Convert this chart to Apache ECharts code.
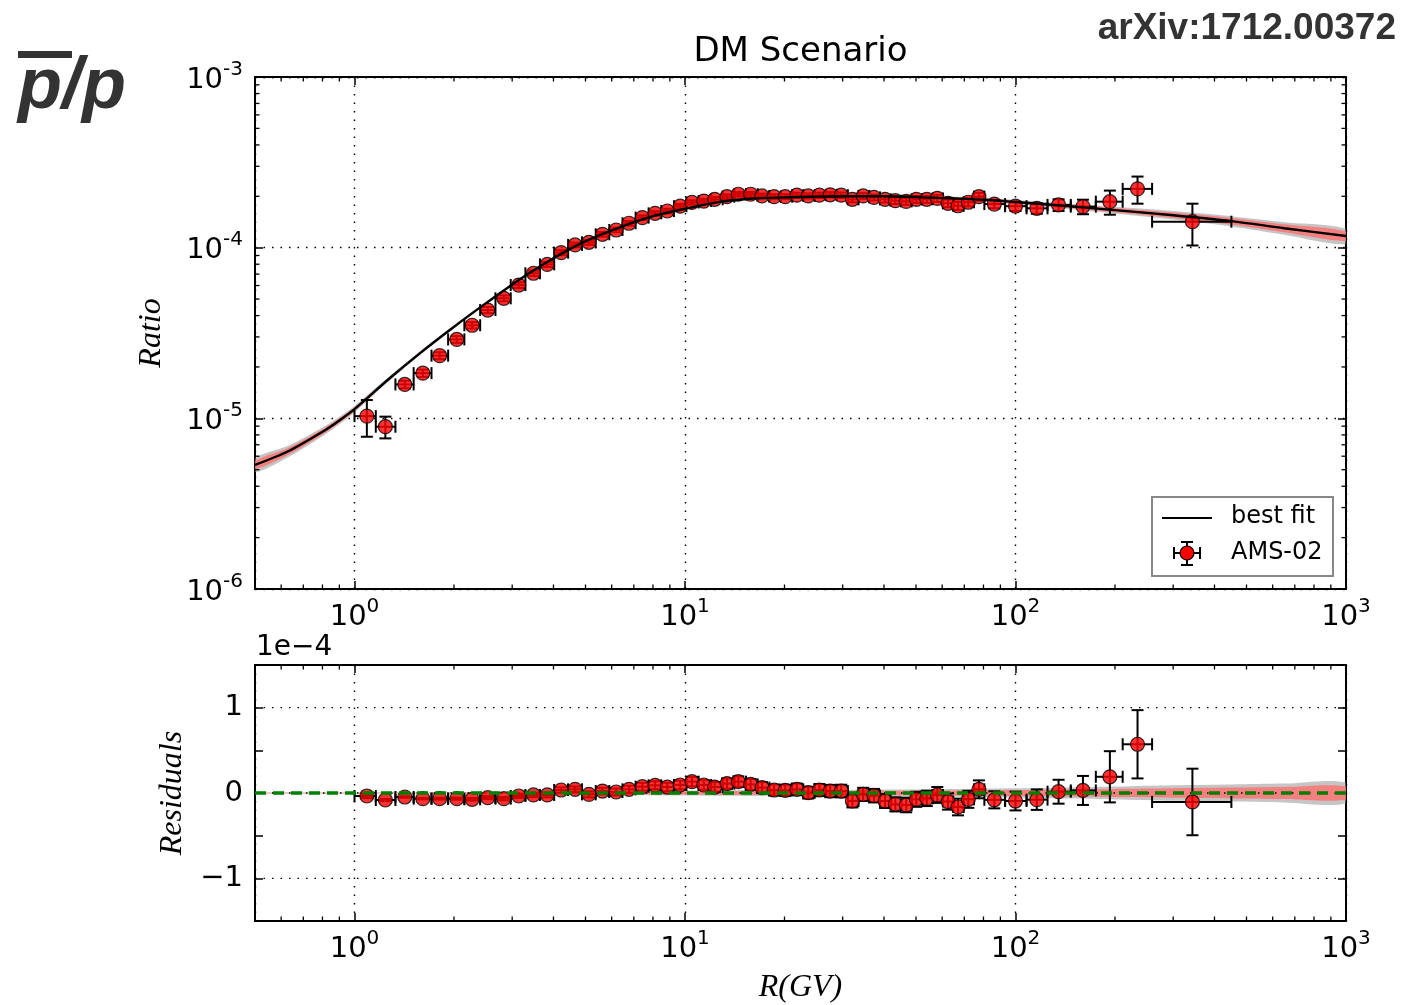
<!DOCTYPE html>
<html>
<head>
<meta charset="utf-8">
<title>DM Scenario - pbar/p</title>
<script src="https://cdn.jsdelivr.net/npm/echarts@6/dist/echarts.min.js"></script>
<style>
  html, body { margin: 0; padding: 0; background: #ffffff; }
  #chart { width: 1403px; height: 1005px; }
</style>
</head>
<body>
<div id="chart"></div>
<script>
// AMS-02 rigidity bins (GV)
const binEdges = [1.00, 1.16, 1.33, 1.51, 1.71, 1.92, 2.15, 2.40, 2.67, 2.97, 3.29, 3.64, 4.02, 4.43, 4.88,
  5.37, 5.90, 6.47, 7.09, 7.76, 8.48, 9.26, 10.1, 11.0, 12.0, 13.0, 14.1, 15.3, 16.6, 18.0, 19.5, 21.1,
  22.8, 24.7, 26.7, 28.8, 31.1, 33.5, 36.1, 38.9, 41.9, 45.1, 48.5, 52.2, 56.1, 60.3, 64.8, 69.7, 74.9,
  80.5, 93.0, 108, 125, 147, 175, 211, 259, 450];
const rigidity = [1.09, 1.24, 1.42, 1.61, 1.81, 2.04, 2.27, 2.53, 2.83, 3.14, 3.48, 3.83, 4.22, 4.65, 5.12,
  5.63, 6.19, 6.77, 7.43, 8.12, 8.84, 9.67, 10.5, 11.4, 12.3, 13.4, 14.5, 15.8, 17.1, 18.6, 20.1, 21.8,
  23.6, 25.5, 27.5, 29.7, 32.1, 34.6, 37.3, 40.3, 43.3, 46.7, 50.1, 53.9, 58.0, 62.5, 67.0, 72.0, 77.5,
  86.3, 100, 116, 135, 160, 193, 234, 343];
// antiproton / proton ratio
const ratio = [1.03e-5, 8.93e-6, 1.58e-5, 1.84e-5, 2.33e-5, 2.90e-5, 3.51e-5, 4.31e-5, 5.05e-5, 6.04e-5,
  7.08e-5, 7.98e-5, 9.35e-5, 1.038e-4, 1.075e-4, 1.198e-4, 1.269e-4, 1.39e-4, 1.50e-4, 1.589e-4,
  1.64e-4, 1.75e-4, 1.84e-4, 1.876e-4, 1.92e-4, 1.99e-4, 2.056e-4, 2.056e-4, 2.01e-4, 1.99e-4,
  1.99e-4, 2.03e-4, 2.01e-4, 2.03e-4, 2.04e-4, 2.03e-4, 1.92e-4, 2.01e-4, 1.97e-4, 1.92e-4,
  1.885e-4, 1.868e-4, 1.92e-4, 1.92e-4, 1.945e-4, 1.82e-4, 1.76e-4, 1.845e-4, 1.99e-4, 1.80e-4,
  1.75e-4, 1.70e-4, 1.78e-4, 1.74e-4, 1.86e-4, 2.21e-4, 1.42e-4];
// errors and residuals in units of 1e-4
const ratioErr = [0.025, 0.013, 0.008, 0.009, 0.011, 0.013, 0.015, 0.018, 0.02, 0.023,
  0.026, 0.028, 0.031, 0.033, 0.035, 0.038, 0.04, 0.042, 0.045, 0.047,
  0.05, 0.052, 0.055, 0.056, 0.058, 0.06, 0.062, 0.063, 0.064, 0.065,
  0.066, 0.068, 0.069, 0.07, 0.072, 0.074, 0.075, 0.077, 0.079, 0.081,
  0.083, 0.085, 0.088, 0.09, 0.093, 0.095, 0.098, 0.1, 0.105, 0.1,
  0.11, 0.12, 0.14, 0.17, 0.30, 0.40, 0.39];
const residual = [-0.035, -0.082, -0.047, -0.066, -0.066, -0.066, -0.074, -0.055, -0.066, -0.035,
  -0.023, -0.023, 0.035, 0.043, -0.016, 0.023, 0.012, 0.043, 0.074, 0.09,
  0.07, 0.094, 0.133, 0.094, 0.07, 0.11, 0.133, 0.10, 0.063, 0.035,
  0.031, 0.043, 0.004, 0.035, 0.023, 0.023, -0.094, -0.016, -0.031, -0.094,
  -0.133, -0.141, -0.074, -0.063, -0.023, -0.10, -0.164, -0.074, 0.043, -0.08,
  -0.094, -0.078, 0.015, 0.03, 0.19, 0.571, -0.105];

// best fit curve
const fitR = [0.5, 0.63, 0.8, 0.9, 1.0, 1.27, 1.6, 2.02, 2.55, 3.21, 4.05, 5.1, 6.44, 8.11, 10, 12.9,
  16, 20, 25, 31.5, 40, 57, 80, 100, 150, 200, 300, 450, 650, 1000];
const fitRatio = [5.33e-6, 6.41e-6, 8.34e-6, 9.72e-6, 1.132e-5, 1.70e-5, 2.46e-5, 3.49e-5, 4.86e-5, 6.64e-5,
  8.78e-5, 1.11e-4, 1.33e-4, 1.54e-4, 1.69e-4, 1.86e-4, 1.94e-4, 1.97e-4, 1.99e-4, 2.00e-4,
  2.00e-4, 1.96e-4, 1.91e-4, 1.85e-4, 1.74e-4, 1.66e-4, 1.55e-4, 1.43e-4, 1.30e-4, 1.17e-4];
// uncertainty bands around the fit, half widths in units of 1e-4
const grayHalf = [0.005, 0.005, 0.005, 0.005, 0.005, 0.005, 0.006, 0.007, 0.009, 0.012, 0.016, 0.02,
  0.024, 0.028, 0.03, 0.033, 0.035, 0.036, 0.037, 0.038, 0.04, 0.045, 0.05, 0.055, 0.065, 0.075,
  0.09, 0.10, 0.11, 0.12];
const redHalf = [0.003, 0.003, 0.003, 0.003, 0.003, 0.003, 0.004, 0.004, 0.005, 0.007, 0.009, 0.012,
  0.014, 0.016, 0.018, 0.02, 0.021, 0.022, 0.023, 0.024, 0.025, 0.028, 0.031, 0.035, 0.042, 0.048,
  0.056, 0.064, 0.07, 0.075];

// tick positions
const xMinor = [0.6, 0.7, 0.8, 0.9, 2, 3, 4, 5, 6, 7, 8, 9, 20, 30, 40, 50, 60, 70, 80, 90,
  200, 300, 400, 500, 600, 700, 800, 900];
const yMinor = [2e-6, 3e-6, 4e-6, 5e-6, 6e-6, 7e-6, 8e-6, 9e-6, 2e-5, 3e-5, 4e-5, 5e-5, 6e-5, 7e-5,
  8e-5, 9e-5, 2e-4, 3e-4, 4e-4, 5e-4, 6e-4, 7e-4, 8e-4, 9e-4];
const resGrid = [-1, 0, 1];

const E4 = 1e-4;
const FONT = '"DejaVu Sans", sans-serif';
const SERIF = '"Liberation Serif", "DejaVu Serif", serif';

function powLabel(v) {
  const e = Math.log10(v);
  const r = Math.round(e);
  if (Math.abs(e - r) > 1e-6) return '';
  return '{b|10}{s|' + r + '}';
}
const powRich = {
  b: { fontSize: 29, fontFamily: FONT, color: '#000', verticalAlign: 'bottom', lineHeight: 35 },
  s: { fontSize: 20, fontFamily: FONT, color: '#000', verticalAlign: 'top' }
};

function logX(gridIndex, position, main) {
  return {
    type: 'log', logBase: 10, gridIndex: gridIndex, position: position, min: 0.5, max: 1000,
    axisLine: { show: true, onZero: false, lineStyle: { color: '#000', width: 2 } },
    axisTick: { show: true, inside: true, length: 8, lineStyle: { color: '#000', width: 1.5 } },
    axisLabel: { show: main, formatter: powLabel, rich: powRich, margin: 8 },
    splitLine: { show: main, lineStyle: { color: '#000', width: 1.4, type: [1.5, 7] } }
  };
}
function logY(position, main) {
  return {
    type: 'log', logBase: 10, gridIndex: 0, position: position, min: 1e-6, max: 1e-3,
    axisLine: { show: true, onZero: false, lineStyle: { color: '#000', width: 2 } },
    axisTick: { show: true, inside: true, length: 8, lineStyle: { color: '#000', width: 1.5 } },
    axisLabel: { show: main, formatter: powLabel, rich: powRich, margin: 12 },
    splitLine: { show: main, lineStyle: { color: '#000', width: 1.4, type: [1.5, 7] } }
  };
}
function resY(position, main) {
  return {
    type: 'value', gridIndex: 1, position: position, min: -1.5, max: 1.5, interval: 0.5,
    axisLine: { show: true, onZero: false, lineStyle: { color: '#000', width: 2 } },
    axisTick: { show: true, inside: true, length: 8, lineStyle: { color: '#000', width: 1.5 } },
    axisLabel: {
      show: main, margin: 12, fontSize: 29, fontFamily: FONT, color: '#000',
      formatter: function (v) {
        if (Math.abs(v - Math.round(v)) > 1e-9) return '';
        return v < 0 ? '\u2212' + Math.abs(v) : String(v);
      }
    },
    splitLine: { show: false }
  };
}

// filled band between lo and hi curves
function bandSeries(xi, yi, lo, hi, color, z) {
  return {
    type: 'custom', xAxisIndex: xi, yAxisIndex: yi, z: z, silent: true, clip: true,
    data: [[fitR[0], hi[0]]],
    renderItem: function (params, api) {
      const pts = [];
      for (let i = 0; i < fitR.length; i++) pts.push(api.coord([fitR[i], hi[i]]));
      for (let i = fitR.length - 1; i >= 0; i--) pts.push(api.coord([fitR[i], lo[i]]));
      return { type: 'polygon', shape: { points: pts, smooth: 0.3 }, style: { fill: color } };
    }
  };
}

// x and y error bars with caps
function errorSeries(xi, yi, items, z) {
  return {
    type: 'custom', xAxisIndex: xi, yAxisIndex: yi, z: z, silent: true, clip: true,
    data: items,
    renderItem: function (params, api) {
      const yl = api.coord([api.value(0), api.value(2)]);
      const yh = api.coord([api.value(0), api.value(3)]);
      const xl = api.coord([api.value(4), api.value(1)]);
      const xh = api.coord([api.value(5), api.value(1)]);
      const cap = 6;
      const segs = [
        [yl[0], yl[1], yh[0], yh[1]],
        [yl[0] - cap, yl[1], yl[0] + cap, yl[1]],
        [yh[0] - cap, yh[1], yh[0] + cap, yh[1]],
        [xl[0], xl[1], xh[0], xh[1]],
        [xl[0], xl[1] - cap, xl[0], xl[1] + cap],
        [xh[0], xh[1] - cap, xh[0], xh[1] + cap]
      ];
      return {
        type: 'group',
        children: segs.map(function (s) {
          return { type: 'line', shape: { x1: s[0], y1: s[1], x2: s[2], y2: s[3] },
            style: { stroke: '#000', lineWidth: 2 } };
        })
      };
    }
  };
}

// minor ticks on both horizontal edges (axis 'x') or both vertical edges (axis 'y')
function minorTicks(xi, yi, items, axis, z) {
  return {
    type: 'custom', xAxisIndex: xi, yAxisIndex: yi, z: z, silent: true, clip: false,
    data: items,
    renderItem: function (params, api) {
      const p = api.coord([api.value(0), api.value(1)]);
      const cs = params.coordSys;
      const L = 4.5;
      let segs;
      if (axis === 'x') {
        segs = [[p[0], cs.y + cs.height, p[0], cs.y + cs.height - L], [p[0], cs.y, p[0], cs.y + L]];
      } else {
        segs = [[cs.x, p[1], cs.x + L, p[1]], [cs.x + cs.width, p[1], cs.x + cs.width - L, p[1]]];
      }
      return {
        type: 'group',
        children: segs.map(function (s) {
          return { type: 'line', shape: { x1: s[0], y1: s[1], x2: s[2], y2: s[3] },
            style: { stroke: '#000', lineWidth: 1.3 } };
        })
      };
    }
  };
}

// horizontal dotted grid lines of the residual panel
function resGridSeries(z) {
  return {
    type: 'custom', xAxisIndex: 2, yAxisIndex: 2, z: z, silent: true,
    data: resGrid.map(function (v) { return [1, v]; }),
    renderItem: function (params, api) {
      const p = api.coord([api.value(0), api.value(1)]);
      const cs = params.coordSys;
      return { type: 'line', shape: { x1: cs.x, y1: p[1], x2: cs.x + cs.width, y2: p[1] },
        style: { stroke: '#000', lineWidth: 1.4, lineDash: [1.5, 7] } };
    }
  };
}

const topErr = rigidity.map(function (r, i) {
  return [r, ratio[i], ratio[i] - ratioErr[i] * E4, ratio[i] + ratioErr[i] * E4, binEdges[i], binEdges[i + 1]];
});
const resErr = rigidity.map(function (r, i) {
  return [r, residual[i], residual[i] - ratioErr[i], residual[i] + ratioErr[i], binEdges[i], binEdges[i + 1]];
});
const topGrayLo = fitRatio.map(function (v, i) { return v - grayHalf[i] * E4; });
const topGrayHi = fitRatio.map(function (v, i) { return v + grayHalf[i] * E4; });
const topRedLo = fitRatio.map(function (v, i) { return v - redHalf[i] * E4; });
const topRedHi = fitRatio.map(function (v, i) { return v + redHalf[i] * E4; });
const resGrayLo = grayHalf.map(function (v) { return -v; });
const resRedLo = redHalf.map(function (v) { return -v; });

const marker = {
  symbol: 'circle', symbolSize: 14,
  itemStyle: { color: '#ff0000', borderColor: '#000', borderWidth: 1.2 }
};

const option = {
  animation: false,
  backgroundColor: '#ffffff',
  grid: [
    { left: 255, top: 77, width: 1091, height: 512 },
    { left: 255, top: 665, width: 1091, height: 256 }
  ],
  xAxis: [logX(0, 'bottom', true), logX(0, 'top', false), logX(1, 'bottom', true), logX(1, 'top', false)],
  yAxis: [logY('left', true), logY('right', false), resY('left', true), resY('right', false)],
  series: [
    bandSeries(0, 0, topGrayLo, topGrayHi, 'rgba(150,150,150,0.55)', 1),
    bandSeries(0, 0, topRedLo, topRedHi, 'rgba(255,110,110,0.8)', 2),
    minorTicks(0, 0, xMinor.map(function (v) { return [v, 1e-4]; }), 'x', 3),
    minorTicks(0, 0, yMinor.map(function (v) { return [1, v]; }), 'y', 3),
    errorSeries(0, 0, topErr, 4),
    Object.assign({
      type: 'scatter', name: 'AMS-02', xAxisIndex: 0, yAxisIndex: 0, z: 5,
      data: rigidity.map(function (r, i) { return [r, ratio[i]]; })
    }, marker),
    {
      type: 'line', name: 'best fit', xAxisIndex: 0, yAxisIndex: 0, z: 6,
      smooth: 0.3, showSymbol: false, symbol: 'none',
      lineStyle: { color: '#000', width: 2.4 },
      data: fitR.map(function (r, i) { return [r, fitRatio[i]]; })
    },

    bandSeries(2, 2, resGrayLo, grayHalf, 'rgba(150,150,150,0.55)', 1),
    bandSeries(2, 2, resRedLo, redHalf, 'rgba(255,110,110,0.8)', 2),
    minorTicks(2, 2, xMinor.map(function (v) { return [v, 0]; }), 'x', 3),
    resGridSeries(3),
    errorSeries(2, 2, resErr, 4),
    Object.assign({
      type: 'scatter', name: 'residuals', xAxisIndex: 2, yAxisIndex: 2, z: 5,
      data: rigidity.map(function (r, i) { return [r, residual[i]]; })
    }, marker),
    {
      type: 'line', name: 'zero', xAxisIndex: 2, yAxisIndex: 2, z: 6,
      showSymbol: false, symbol: 'none',
      lineStyle: { color: '#007f00', width: 3.4, type: [11, 7] },
      data: [[0.5, 0], [1000, 0]]
    }
  ],
  graphic: [
    { type: 'rect', left: 18, top: 51, shape: { width: 54, height: 7 }, style: { fill: '#333333' } },
    { type: 'text', x: 18, y: 88,
      style: { text: 'p/p', font: 'italic bold 72px "Liberation Sans", sans-serif', fill: '#333333',
        align: 'left', verticalAlign: 'middle' } },
    { type: 'text', x: 1396, y: 29,
      style: { text: 'arXiv:1712.00372', font: 'bold 37px "Liberation Sans", sans-serif', fill: '#333333',
        align: 'right', verticalAlign: 'middle' } },
    { type: 'text', x: 800.5, y: 52,
      style: { text: 'DM Scenario', font: '34px ' + FONT, fill: '#000', align: 'center', verticalAlign: 'middle' } },
    { type: 'text', x: 152, y: 333, rotation: Math.PI / 2,
      style: { text: 'Ratio', font: 'italic 32px ' + SERIF, fill: '#000', align: 'center', verticalAlign: 'middle' } },
    { type: 'text', x: 173, y: 793, rotation: Math.PI / 2,
      style: { text: 'Residuals', font: 'italic 32px ' + SERIF, fill: '#000', align: 'center', verticalAlign: 'middle' } },
    { type: 'text', x: 800.5, y: 988,
      style: { text: 'R(GV)', font: 'italic 32px ' + SERIF, fill: '#000', align: 'center', verticalAlign: 'middle' } },
    { type: 'text', x: 256, y: 648,
      style: { text: '1e\u22124', font: '28px ' + FONT, fill: '#000', align: 'left', verticalAlign: 'middle' } },
    // legend
    { type: 'rect', shape: { x: 1152, y: 497, width: 181, height: 79 },
      style: { fill: '#ffffff', stroke: '#888888', lineWidth: 2 }, z: 100 },
    { type: 'line', shape: { x1: 1162, y1: 518, x2: 1212, y2: 518 }, style: { stroke: '#000', lineWidth: 2.2 }, z: 101 },
    { type: 'text', x: 1231, y: 517, z: 101,
      style: { text: 'best fit', font: '24px ' + FONT, fill: '#000', align: 'left', verticalAlign: 'middle' } },
    { type: 'line', shape: { x1: 1174, y1: 553, x2: 1200, y2: 553 }, style: { stroke: '#000', lineWidth: 2 }, z: 101 },
    { type: 'line', shape: { x1: 1174, y1: 547, x2: 1174, y2: 559 }, style: { stroke: '#000', lineWidth: 2 }, z: 101 },
    { type: 'line', shape: { x1: 1200, y1: 547, x2: 1200, y2: 559 }, style: { stroke: '#000', lineWidth: 2 }, z: 101 },
    { type: 'line', shape: { x1: 1187, y1: 542, x2: 1187, y2: 565 }, style: { stroke: '#000', lineWidth: 2 }, z: 101 },
    { type: 'line', shape: { x1: 1181, y1: 542, x2: 1193, y2: 542 }, style: { stroke: '#000', lineWidth: 2 }, z: 101 },
    { type: 'line', shape: { x1: 1181, y1: 565, x2: 1193, y2: 565 }, style: { stroke: '#000', lineWidth: 2 }, z: 101 },
    { type: 'circle', shape: { cx: 1187, cy: 553, r: 7 }, style: { fill: '#ff0000', stroke: '#000', lineWidth: 1.2 }, z: 102 },
    { type: 'text', x: 1231, y: 553, z: 101,
      style: { text: 'AMS-02', font: '24px ' + FONT, fill: '#000', align: 'left', verticalAlign: 'middle' } }
  ]
};

const chart = echarts.init(document.getElementById('chart'));
chart.setOption(option);
</script>
</body>
</html>
